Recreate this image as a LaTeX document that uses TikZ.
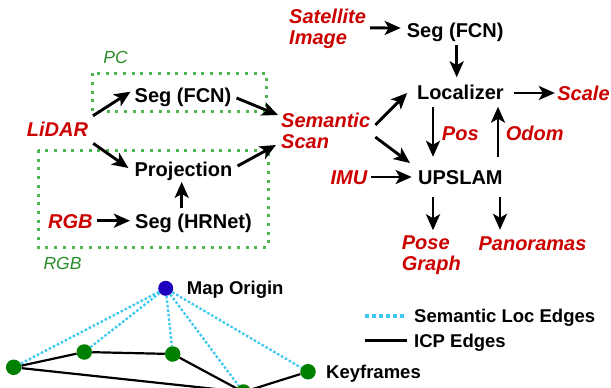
\documentclass[tikz,border=0pt]{standalone}
\usepackage{fontspec}
\setmainfont{Liberation Sans}
\usetikzlibrary{arrows.meta,calc}
\definecolor{myred}{RGB}{205,0,0}
\definecolor{boxgreen}{RGB}{80,180,80}
\definecolor{labgreen}{RGB}{40,140,40}
\definecolor{kfgreen}{RGB}{0,128,0}
\definecolor{origblue}{RGB}{30,0,190}
\definecolor{semcyan}{RGB}{60,200,240}
\begin{document}
\begin{tikzpicture}[x=1pt,y=-1pt,
 lbl/.style={inner sep=0pt, text height=14.4pt, text depth=0pt, font=\bfseries\fontsize{20}{20.5}\selectfont},
 redlbl/.style={lbl, text=myred, font=\bfseries\itshape\fontsize{20}{20.5}\selectfont},
 redml/.style={inner sep=0pt, align=left, text=myred, font=\bfseries\itshape\fontsize{20}{20.5}\selectfont, anchor=west},
 grnlbl/.style={inner sep=0pt, text height=12.6pt, text depth=0pt, text=labgreen, font=\itshape\fontsize{17.5}{18}\selectfont},
 smalltext/.style={inner sep=0pt, text height=13.3pt, text depth=0pt, font=\bfseries\fontsize{18.5}{19}\selectfont, anchor=west},
 arr/.style={line width=2.9pt, -{Stealth[length=16pt,width=14pt,inset=4pt]}},
 gbox/.style={boxgreen, line width=3pt, dash pattern=on 3pt off 5.7pt},
 kf/.style={circle, fill=kfgreen, minimum size=15.5pt, inner sep=0pt},
 icp/.style={line width=2.2pt},
 semedge/.style={semcyan, line width=2.3pt, dash pattern=on 2.5pt off 2pt}
]
\useasboundingbox (0,0) rectangle (611,388);
\clip (0,0) rectangle (611,388);

% green boxes
\draw[gbox] (92.7,73.3) rectangle (266.7,111.7);
\draw[gbox] (38,150) rectangle (268,247);
\node[grnlbl] (pc) at (115.5,57) {PC};
\node[grnlbl] (rgblab) at (62.5,263.3) {RGB};

% left part
\node[redlbl] (lidar) at (57.5,129) {LiDAR};
\node[lbl] (segfcn1) at (183,95) {Seg (FCN)};
\node[lbl] (proj) at (183.5,169) {Projection};
\node[lbl] (seghr) at (193.5,221.7) {Seg (HRNet)};
\node[redlbl] (rgb) at (70.3,221.7) {RGB};
\node[redml] (sem) at (281,130.8) {Semantic\\Scan};

\draw[arr] ($(lidar.north east)+(4.7,-5.8)$) -- ($(segfcn1.west)+(-4,-3.3)$);
\draw[arr] ($(segfcn1.east)+(5,3)$) -- ($(sem.west)+(-3,-15.8)$);
\draw[arr] ($(lidar.south east)+(5,7)$) -- ($(proj.west)+(-6,-1)$);
\draw[arr] ($(proj.east)+(5,-3)$) -- ($(sem.west)+(-5,14.2)$);
\draw[arr] ($(rgb.east)+(4,-1)$) -- ($(seghr.west)+(-5,-1)$);
\draw[arr] ($(proj.south |- seghr.north)+(-1.8,-6)$) -- ($(proj.south)+(-1.8,5.5)$);

% right part
\node[redml] (sat) at (289,28.9) {Satellite\\Image};
\node[lbl] (segfcn2) at (455.2,30) {Seg (FCN)};
\node[lbl] (loc) at (460.4,92.5) {Localizer};
\node[redlbl] (scale) at (583.5,93) {Scale};
\node[lbl] (upslam) at (460.4,177) {UPSLAM};
\node[redlbl] (imu) at (349,177) {IMU};
\node[redlbl] (pos) at (460.3,133) {Pos};
\node[redlbl] (odom) at (534.8,133) {Odom};
\node[redml] (pg) at (401.7,255) {Pose\\Graph};
\node[redlbl] (pano) at (532.5,243) {Panoramas};

\draw[arr] ($(sat.east)+(4,-1)$) -- ($(segfcn2.west)+(-6,-2)$);
\draw[arr] ($(segfcn2.south)+(1.5,8)$) -- ($(segfcn2.south |- loc.north)+(1.5,-7.8)$);
\draw[arr] ($(loc.east)+(10,0.5)$) -- ($(scale.west)+(-2.3,0)$);
\draw[arr] ($(sem.east)+(5,-5.8)$) -- ($(loc.west)+(-9.7,0.5)$);
\draw[arr] ($(sem.east)+(5,6.2)$) -- ($(upslam.west)+(-8,-14)$);
\draw[arr] ($(loc.south)+(-27.4,6.8)$) -- ($(loc.south |- upslam.north)+(-27.4,-12.8)$);
\draw[arr] ($(loc.south |- upslam.north)+(37.6,-12.8)$) -- ($(loc.south)+(37.6,6.8)$);
\draw[arr] ($(imu.east)+(3.7,0)$) -- ($(upslam.west)+(-6.3,0)$);
\draw[arr] ($(upslam.south)+(-27.4,12.8)$) -- ($(upslam.south |- pg.north)+(-27.4,-5.3)$);
\draw[arr] ($(upslam.south)+(39.6,12.8)$) -- ($(upslam.south |- pano.north)+(39.6,-5.8)$);

% pose graph
\node[circle, fill=origblue, minimum size=15pt, inner sep=0pt] (orig) at (165.7,288.3) {};
\node[kf] (k1) at (13.7,367.3) {};
\node[kf] (k2) at (84.3,352) {};
\node[kf] (k3) at (172.7,354) {};
\node[kf] (k4) at (308,371.7) {};
\node[kf] (k5) at (243.3,392) {};
\node[smalltext] (origtext) at (186.7,288.3) {Map Origin};
\node[smalltext] (kftext) at (326,372) {Keyframes};
\draw[icp] (k1) -- (k2) (k2) -- (k3) (k3) -- (k5) (k5) -- (k4) (k1) -- (k5);
\draw[semedge] (orig) -- (k1) (orig) -- (k2) (orig) -- (k3) (orig) -- (k5) (orig) -- (k4);

% legend
\node[smalltext] (legsem) at (414,316) {Semantic Loc Edges};
\node[smalltext] (legicp) at (414,340.7) {ICP Edges};
\coordinate (ls) at (365,316);
\coordinate (li) at (365,340.7);
\draw[semedge, line width=3.5pt, dash pattern=on 3.5pt off 3.5pt] (ls) -- ($(legsem.west)+(-7,0)$);
\draw[line width=3pt] (li) -- ($(legicp.west)+(-7,0)$);
\end{tikzpicture}
\end{document}
